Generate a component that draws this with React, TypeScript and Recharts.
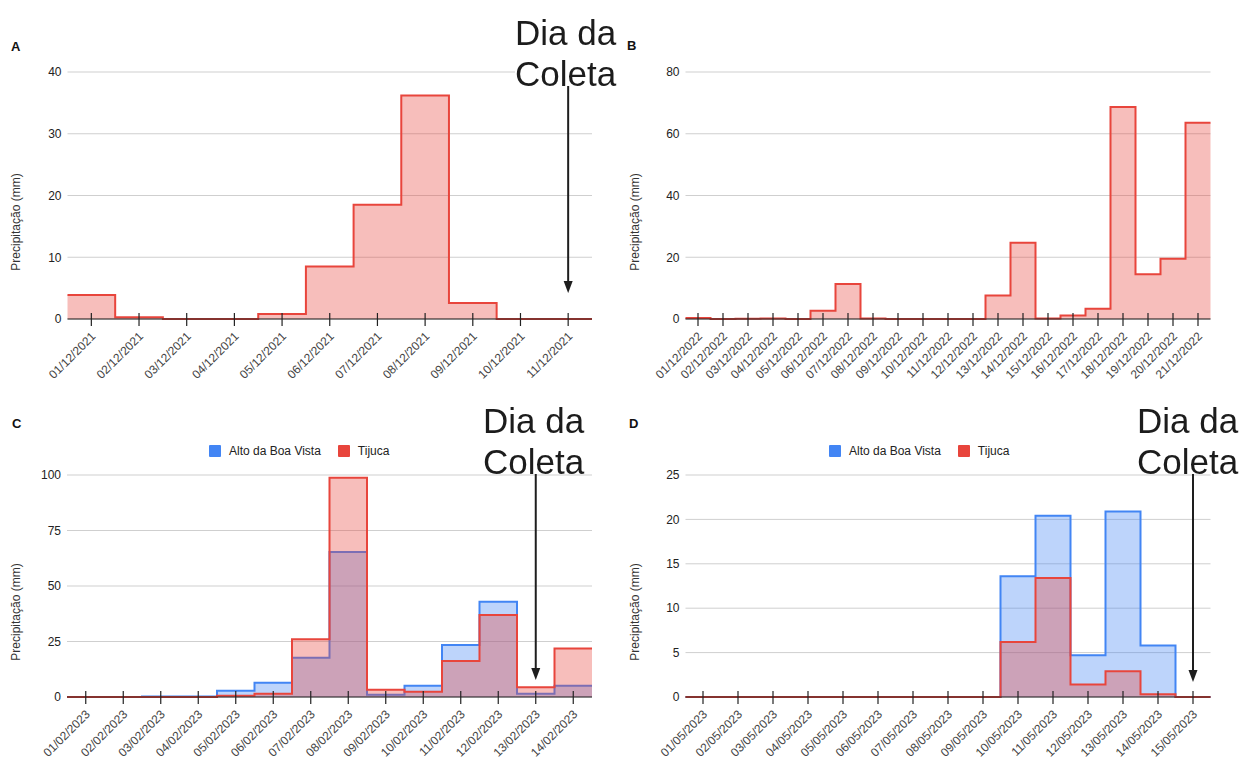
import React from "react";
import {
  ComposedChart,
  Area,
  XAxis,
  YAxis,
  CartesianGrid,
  ReferenceLine,
  Legend,
} from "recharts";

const FONT = "'Liberation Sans', Arial, Helvetica, sans-serif";
const RED = "#e8453c";
const BLUE = "#4285f4";

// Panel A – December 2021
const daysA = [
  "01/12/2021", "02/12/2021", "03/12/2021", "04/12/2021", "05/12/2021", "06/12/2021",
  "07/12/2021", "08/12/2021", "09/12/2021", "10/12/2021", "11/12/2021",
];
const rainA = [3.9, 0.3, 0, 0, 0.8, 8.5, 18.5, 36.2, 2.6, 0, 0];
const ticksA = [0, 10, 20, 30, 40];

// Panel B – December 2022
const daysB = [
  "01/12/2022", "02/12/2022", "03/12/2022", "04/12/2022", "05/12/2022", "06/12/2022",
  "07/12/2022", "08/12/2022", "09/12/2022", "10/12/2022", "11/12/2022", "12/12/2022",
  "13/12/2022", "14/12/2022", "15/12/2022", "16/12/2022", "17/12/2022", "18/12/2022",
  "19/12/2022", "20/12/2022", "21/12/2022",
];
const rainB = [0.3, 0, 0.1, 0.2, 0, 2.7, 11.3, 0.2, 0, 0, 0, 0, 7.6, 24.7, 0.2, 1.1, 3.3, 68.7, 14.5, 19.5, 63.6];
const ticksB = [0, 20, 40, 60, 80];

// Panel C – February 2023
const daysC = [
  "01/02/2023", "02/02/2023", "03/02/2023", "04/02/2023", "05/02/2023", "06/02/2023",
  "07/02/2023", "08/02/2023", "09/02/2023", "10/02/2023", "11/02/2023", "12/02/2023",
  "13/02/2023", "14/02/2023",
];
const altoC = [0, 0, 0.2, 0.2, 2.8, 6.4, 17.7, 65.3, 1.0, 5.1, 23.4, 42.9, 1.5, 5.1];
const tijucaC = [0, 0, 0, 0, 0.6, 1.5, 26.0, 98.8, 3.3, 2.4, 16.2, 36.9, 4.4, 21.9];
const ticksC = [0, 25, 50, 75, 100];

// Panel D – May 2023
const daysD = [
  "01/05/2023", "02/05/2023", "03/05/2023", "04/05/2023", "05/05/2023", "06/05/2023",
  "07/05/2023", "08/05/2023", "09/05/2023", "10/05/2023", "11/05/2023", "12/05/2023",
  "13/05/2023", "14/05/2023", "15/05/2023",
];
const altoD = [0, 0, 0, 0, 0, 0, 0, 0, 0, 13.6, 20.4, 4.7, 20.9, 5.8, 0];
const tijucaD = [0, 0, 0, 0, 0, 0, 0, 0, 0, 6.2, 13.4, 1.4, 2.9, 0.3, 0];
const ticksD = [0, 5, 10, 15, 20, 25];

// Step curve that holds each value across its whole day band
// (half a band on either side of the point).
function bandStep(context: any) {
  let line = NaN;
  let pts: number[][] = [];
  return {
    areaStart() { line = 0; },
    areaEnd() { line = NaN; },
    lineStart() { pts = []; },
    point(x: number, y: number) { pts.push([+x, +y]); },
    lineEnd() {
      const n = pts.length;
      if (n) {
        const h = n > 1 ? (pts[1][0] - pts[0][0]) / 2 : 0;
        if (line) context.lineTo(pts[0][0] - h, pts[0][1]);
        else context.moveTo(pts[0][0] - h, pts[0][1]);
        for (let i = 1; i < n; i++) {
          const xm = (pts[i - 1][0] + pts[i][0]) / 2;
          context.lineTo(xm, pts[i - 1][1]);
          context.lineTo(xm, pts[i][1]);
        }
        context.lineTo(pts[n - 1][0] + h, pts[n - 1][1]);
      }
      if (line || (line !== 0 && n === 1)) context.closePath();
      line = 1 - line;
    },
  };
}

type Series = { key: string; name: string; color: string; values: number[] };

const DayTick = (props: any) => {
  const { x, y, payload, days } = props;
  return (
    <g transform={`translate(${x},${y})`}>
      <line x1={0} x2={0} y1={-6} y2={7} stroke="#222" strokeWidth={1.2} />
      <text
        transform="translate(5,18) rotate(-45)"
        textAnchor="end"
        fontSize={12}
        fill="#444"
        fontFamily={FONT}
      >
        {days[payload.value]}
      </text>
    </g>
  );
};

const Arrow = (props: any) => {
  const { x1, y1, x2, y2 } = props;
  return (
    <g>
      <line x1={x1} y1={y1} x2={x2} y2={y2 - 8} stroke="#1e1e1e" strokeWidth={2} />
      <polygon points={`${x2 - 4.5},${y2 - 12} ${x2 + 4.5},${y2 - 12} ${x2},${y2}`} fill="#1e1e1e" />
    </g>
  );
};

const LegendRow = (props: any) => {
  const items = props.payload || [];
  return (
    <div style={{ display: "flex", alignItems: "center", fontFamily: FONT, fontSize: 12, color: "#222" }}>
      {items.map((it: any, i: number) => (
        <div key={i} style={{ display: "flex", alignItems: "center", marginRight: 17 }}>
          <span style={{ width: 12, height: 12, background: it.color, borderRadius: 1, marginRight: 8 }} />
          <span>{it.value}</span>
        </div>
      ))}
    </div>
  );
};

interface PanelProps {
  left: number;
  top: number;
  width: number;
  height: number;
  plot: { l: number; t: number; r: number; b: number };
  days: string[];
  series: Series[];
  yTicks: number[];
  arrow?: { index: number; from: number; to: number };
  legend?: boolean;
}

const Panel: React.FC<PanelProps> = ({ left, top, width, height, plot, days, series, yTicks, arrow, legend }) => {
  const rows = days.map((d, i) => {
    const row: Record<string, number | string> = { i, day: d };
    series.forEach((s) => { row[s.key] = s.values[i]; });
    return row;
  });
  const yAxisW = 40;
  const xAxisH = 70;
  return (
    <div style={{ position: "absolute", left, top, width, height }}>
      <ComposedChart
        width={width}
        height={height}
        data={rows}
        margin={{
          top: plot.t,
          left: plot.l - yAxisW,
          right: width - plot.r,
          bottom: height - plot.b - xAxisH,
        }}
      >
        <CartesianGrid vertical={false} stroke="#cfcfcf" />
        <XAxis
          type="number"
          dataKey="i"
          domain={[-0.5, days.length - 0.5]}
          ticks={days.map((_, i) => i)}
          interval={0}
          height={xAxisH}
          tickSize={0}
          tickMargin={0}
          tickLine={false}
          axisLine={{ stroke: "#222", strokeWidth: 1.2 }}
          tick={(p: any) => <DayTick {...p} days={days} />}
        />
        <YAxis
          type="number"
          domain={[0, yTicks[yTicks.length - 1]]}
          ticks={yTicks}
          width={yAxisW}
          tickSize={0}
          tickMargin={6}
          tickLine={false}
          axisLine={false}
          tick={{ fontSize: 12, fill: "#222", fontFamily: FONT }}
        />
        {series.map((s) => (
          <Area
            key={s.key}
            type={bandStep as any}
            dataKey={s.key}
            name={s.name}
            stroke={s.color}
            strokeWidth={2}
            fill={s.color}
            fillOpacity={0.35}
            dot={false}
            activeDot={false}
            isAnimationActive={false}
          />
        ))}
        {arrow && (
          <ReferenceLine
            segment={[
              { x: arrow.index, y: arrow.from },
              { x: arrow.index, y: arrow.to },
            ]}
            ifOverflow="visible"
            shape={(p: any) => <Arrow {...p} />}
          />
        )}
        {legend && (
          <Legend
            layout="horizontal"
            verticalAlign="middle"
            align="center"
            content={(p: any) => <LegendRow {...p} />}
            wrapperStyle={{ top: 64, left: 209, width: 260, height: 14 }}
          />
        )}
      </ComposedChart>
    </div>
  );
};

const letterStyle: React.CSSProperties = {
  position: "absolute",
  fontFamily: FONT,
  fontWeight: 700,
  fontSize: 13,
  lineHeight: "13px",
  color: "#111",
};

const AxisTitle = ({ x, y }: { x: number; y: number }) => (
  <div
    style={{
      position: "absolute",
      left: x,
      top: y,
      transform: "translate(-50%, -50%) rotate(-90deg)",
      fontFamily: FONT,
      fontSize: 12,
      color: "#333",
      whiteSpace: "nowrap",
    }}
  >
    Precipitação (mm)
  </div>
);

const Coleta = ({ x, y, w }: { x: number; y: number; w: number }) => (
  <div
    style={{
      position: "absolute",
      left: x,
      top: y,
      width: w,
      height: 74,
      background: "#fff",
      fontFamily: FONT,
      fontSize: 35,
      lineHeight: "41px",
      color: "#1c1c1c",
      whiteSpace: "nowrap",
    }}
  >
    <div style={{ filter: "blur(0.5px)" }}>
      Dia da
      <br />
      Coleta
    </div>
  </div>
);

export default function App() {
  return (
    <div style={{ position: "absolute", left: 0, top: 0, width: 1249, height: 760, background: "#fff", overflow: "hidden" }}>
      <Panel
        left={0}
        top={0}
        width={620}
        height={400}
        plot={{ l: 67.5, t: 72, r: 592, b: 319 }}
        days={daysA}
        series={[{ key: "tijuca", name: "Tijuca", color: RED, values: rainA }]}
        yTicks={ticksA}
        arrow={{ index: 10, from: 38.5, to: 4.2 }}
      />
      <Panel
        left={620}
        top={0}
        width={629}
        height={400}
        plot={{ l: 65.5, t: 72, r: 590.5, b: 319 }}
        days={daysB}
        series={[{ key: "tijuca", name: "Tijuca", color: RED, values: rainB }]}
        yTicks={ticksB}
      />
      <Panel
        left={0}
        top={380}
        width={620}
        height={390}
        plot={{ l: 67, t: 95, r: 592, b: 317 }}
        days={daysC}
        series={[
          { key: "alto", name: "Alto da Boa Vista", color: BLUE, values: altoC },
          { key: "tijuca", name: "Tijuca", color: RED, values: tijucaC },
        ]}
        yTicks={ticksC}
        arrow={{ index: 12, from: 101, to: 7.7 }}
        legend
      />
      <Panel
        left={620}
        top={380}
        width={629}
        height={390}
        plot={{ l: 65.5, t: 95, r: 590.5, b: 317 }}
        days={daysD}
        series={[
          { key: "alto", name: "Alto da Boa Vista", color: BLUE, values: altoD },
          { key: "tijuca", name: "Tijuca", color: RED, values: tijucaD },
        ]}
        yTicks={ticksD}
        arrow={{ index: 14, from: 25.6, to: 1.7 }}
        legend
      />

      <div style={{ ...letterStyle, left: 11, top: 40 }}>A</div>
      <div style={{ ...letterStyle, left: 627, top: 39 }}>B</div>
      <div style={{ ...letterStyle, left: 12, top: 417 }}>C</div>
      <div style={{ ...letterStyle, left: 629, top: 417 }}>D</div>

      <AxisTitle x={16} y={222} />
      <AxisTitle x={635} y={222} />
      <AxisTitle x={16} y={612} />
      <AxisTitle x={635} y={612} />

      <Coleta x={515} y={12} w={110} />
      <Coleta x={483} y={400} w={109} />
      <Coleta x={1137} y={400} w={112} />
    </div>
  );
}
